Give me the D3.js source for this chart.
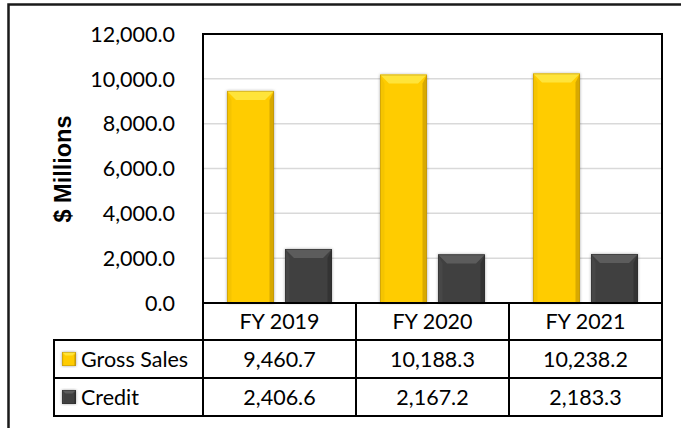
<!DOCTYPE html>
<html>
<head>
<meta charset="utf-8">
<script src="https://cdn.jsdelivr.net/npm/d3@7"></script>
<style>
  body { margin: 0; background: #fff; }
  text { font-family: Lato, "Open Sans", sans-serif; }
</style>
</head>
<body>
<svg id="chart" width="681" height="428"></svg>
<script>
let years = ["FY 2019", "FY 2020", "FY 2021"];
let series = ["Gross Sales", "Credit"];
let grossSales = [9460.7, 10188.3, 10238.2];
let credit = [2406.6, 2167.2, 2183.3];
let yTicks = [0, 2000, 4000, 6000, 8000, 10000, 12000];

let svg = d3.select("#chart");
let fmt = d3.format(",.1f");

let plot = {left: 203, top: 34, right: 662, bottom: 303};
let rowH = [303, 340, 378, 416];
let tableLeft = 54;
let fontSize = 21.5;

let colors = {
    "Gross Sales": {main: "#FFCC00", top: "#FFE43A", left: "#F5C400", right: "#D8A900", edge: "#B08A10"},
    "Credit": {main: "#404040", top: "#5C5C5C", left: "#474747", right: "#333333", edge: "#2A2A2A"}
};

// outer frame (cropped on right and bottom)
svg.append("path")
    .attr("d", "M8.5,430 L8.5,4.5 L690,4.5")
    .attr("fill", "none")
    .attr("stroke", "#1a1a1a")
    .attr("stroke-width", 2.5);

let defs = svg.append("defs");
defs.append("filter").attr("id", "shadow")
    .attr("x", "-20%").attr("y", "-10%").attr("width", "140%").attr("height", "120%")
  .append("feDropShadow")
    .attr("dx", 0).attr("dy", 0).attr("stdDeviation", 1.8)
    .attr("flood-color", "#000").attr("flood-opacity", 0.35);

let y = d3.scaleLinear().domain([0, 12000]).range([plot.bottom, plot.top]);
let x0 = d3.scaleBand().domain(years).range([plot.left, plot.right]);
let x1 = d3.scaleBand().domain(series).range([0, x0.bandwidth()])
    .paddingInner(0.19).paddingOuter(0.414);

// gridlines
svg.append("g")
    .selectAll("line")
    .data(yTicks.filter(d => d > 0 && d < 12000))
    .join("line")
    .attr("x1", plot.left).attr("x2", plot.right)
    .attr("y1", d => y(d)).attr("y2", d => y(d))
    .attr("stroke", "#D9D9D9")
    .attr("stroke-width", 1.5);

// y tick labels
svg.append("g")
    .selectAll("text")
    .data(yTicks)
    .join("text")
    .attr("x", 175)
    .attr("y", d => y(d))
    .attr("dy", "0.36em")
    .attr("text-anchor", "end")
    .attr("font-size", fontSize)
    .attr("fill", "#000")
    .text(d => fmt(d));

// y title
svg.append("text")
    .attr("transform", "translate(71,169) rotate(-90)")
    .attr("text-anchor", "middle")
    .style("font-family", "'Liberation Sans', Arial, sans-serif")
    .attr("font-weight", "bold")
    .attr("font-size", 23.5)
    .text("$ Millions");

function bevelBar(g, bx, by, bw, bh, c, b) {
    b = Math.min(b, bh / 2, bw / 2);
    g.append("rect")
        .attr("x", bx).attr("y", by).attr("width", bw).attr("height", bh)
        .attr("fill", c.main)
        .attr("filter", "url(#shadow)");
    // top bevel
    g.append("path")
        .attr("d", `M${bx},${by} L${bx + bw},${by} L${bx + bw - b},${by + b} L${bx + b},${by + b} Z`)
        .attr("fill", c.top);
    // left bevel
    g.append("path")
        .attr("d", `M${bx},${by} L${bx + b * 0.5},${by + b} L${bx + b * 0.5},${by + bh} L${bx},${by + bh} Z`)
        .attr("fill", c.left);
    // right bevel
    g.append("path")
        .attr("d", `M${bx + bw},${by} L${bx + bw - b * 0.5},${by + b} L${bx + bw - b * 0.5},${by + bh} L${bx + bw},${by + bh} Z`)
        .attr("fill", c.right);
    g.append("rect")
        .attr("x", bx + 0.4).attr("y", by + 0.4).attr("width", bw - 0.8).attr("height", bh - 0.8)
        .attr("fill", "none")
        .attr("stroke", c.edge)
        .attr("stroke-opacity", 0.6)
        .attr("stroke-width", 0.8);
}

let values = {"Gross Sales": grossSales, "Credit": credit};
let bars = svg.append("g");
years.forEach((yr, i) => {
    series.forEach(s => {
        let v = values[s][i];
        let bx = x0(yr) + x1(s);
        let by = y(v);
        bevelBar(bars, bx, by, x1.bandwidth(), plot.bottom - by, colors[s], 9);
    });
});

// plot area frame
svg.append("rect")
    .attr("x", plot.left).attr("y", plot.top)
    .attr("width", plot.right - plot.left).attr("height", plot.bottom - plot.top)
    .attr("fill", "none")
    .attr("stroke", "#000")
    .attr("stroke-width", 2);

// data table
let table = svg.append("g");
let lineStyle = sel => sel.attr("stroke", "#000").attr("stroke-width", 2);

// horizontal lines
[1, 2, 3].forEach(k => {
    table.append("line").call(lineStyle)
        .attr("x1", tableLeft - 1).attr("x2", plot.right + 1)
        .attr("y1", rowH[k]).attr("y2", rowH[k]);
});
// vertical lines
table.append("line").call(lineStyle)
    .attr("x1", tableLeft).attr("x2", tableLeft).attr("y1", rowH[1]).attr("y2", rowH[3]);
table.selectAll(".vline")
    .data(years)
    .join("line")
    .attr("class", "vline")
    .call(lineStyle)
    .attr("x1", d => x0(d)).attr("x2", d => x0(d))
    .attr("y1", rowH[0]).attr("y2", rowH[3]);
table.append("line").call(lineStyle)
    .attr("x1", plot.right).attr("x2", plot.right).attr("y1", rowH[0]).attr("y2", rowH[3]);

// header
table.selectAll(".hdr")
    .data(years)
    .join("text")
    .attr("class", "hdr")
    .attr("x", d => x0(d) + x0.bandwidth() / 2)
    .attr("y", (rowH[0] + rowH[1]) / 2)
    .attr("dy", "0.36em")
    .attr("text-anchor", "middle")
    .attr("font-size", fontSize)
    .text(d => d);

// rows
series.forEach((s, r) => {
    let cy = (rowH[r + 1] + rowH[r + 2]) / 2;
    let c = colors[s];
    let sw = 14;
    bevelBar(table, 62, cy - sw / 2, sw, sw, c, 3.5);
    table.append("text")
        .attr("x", 81)
        .attr("y", cy)
        .attr("dy", "0.36em")
        .attr("font-size", fontSize)
        .text(s);
    table.selectAll(".v" + r)
        .data(values[s])
        .join("text")
        .attr("class", "v" + r)
        .attr("x", (d, i) => x0(years[i]) + x0.bandwidth() / 2)
        .attr("y", cy)
        .attr("dy", "0.36em")
        .attr("text-anchor", "middle")
        .attr("font-size", fontSize)
        .text(d => fmt(d));
});
</script>
</body>
</html>
